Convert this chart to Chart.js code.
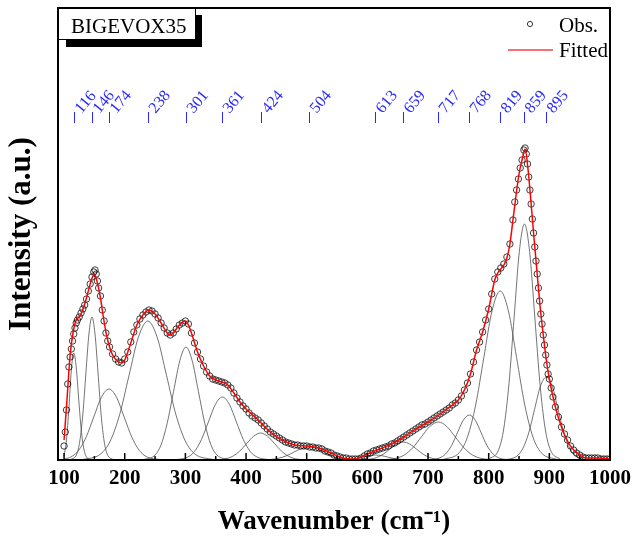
<!DOCTYPE html>
<html>
<head>
<meta charset="utf-8">
<script src="https://cdn.jsdelivr.net/npm/chart.js@4.4.1/dist/chart.umd.min.js"></script>
<style>
  body { margin: 0; background: #fff; }
  canvas { display: block; }
</style>
</head>
<body>
<canvas id="ramanChart" width="637" height="541"></canvas>
<script>
// Observed Raman spectrum (wavenumber, intensity a.u.)
const obsX = [
  100,102,104,106,108,110,112,114,116,118,
  120,122,125,128,131,134,137,140,143,146,
  149,151,153,155,157,160,163,166,169,172,
  175,180,185,190,195,200,205,210,215,220,
  225,230,235,240,245,250,255,260,265,270,
  275,280,285,290,295,300,305,310,315,320,
  325,330,335,340,345,350,355,360,365,370,
  375,380,385,390,395,400,405,410,415,420,
  425,430,435,440,445,450,455,460,465,470,
  475,480,485,490,495,500,505,510,515,520,
  525,530,535,540,545,550,555,560,565,570,
  575,580,585,590,595,600,605,610,615,620,
  625,630,635,640,645,650,655,660,665,670,
  675,680,685,690,695,700,705,710,715,720,
  725,730,735,740,745,750,755,760,765,770,
  775,780,785,790,795,800,805,810,815,820,
  825,830,835,840,843,846,849,852,855,858,
  860,862,864,866,868,870,872,874,876,878,
  880,882,884,886,888,890,892,894,896,898,
  900,903,906,910,915,920,925,930,935,940,
  945,950,955,960,965,970,975,980,985,990,
  995,1000
];
const obsY = [
  14,28,50,76,93,103,111,119,126,132,
  137,140,143,147,151,155,161,169,176,183,
  188,190,186,179,172,164,150,139,127,119,
  113,106,101,98,97,101,108,118,128,135,
  141,145,148,150,149,146,142,137,132,127,
  125,127,131,135,137,139,136,127,117,108,
  101,94,88,84,81,80,79,78,77,75,
  72,67,62,58,54,51,47,44,42,40,
  37,34,31,28,26,24,22,20,18,17,
  16,15,15,14,14,14,13,13,12,12,
  11,9,8,7,5,4,3,2,2,1,
  1,1,1,2,4,6,7,9,10,11,
  12,13,14,16,17,19,21,23,25,27,
  29,31,33,35,36,38,40,42,44,46,
  48,50,52,55,57,60,64,70,77,86,
  98,110,118,128,140,151,166,181,188,192,
  196,203,216,240,258,270,281,292,300,310,
  312,306,296,283,270,256,241,227,213,199,
  186,172,159,146,136,125,115,105,95,86,
  81,72,63,53,43,33,26,20,14,10,
  7,5,3,2,2,2,2,2,1,1,
  1,1
];

// Fitted envelope
const fitX = [100,105,110,115,120,125,130,135,140,145,150,155,160,165,170,175,180,190,195,200,
  210,220,230,240,250,260,270,275,280,290,300,305,310,320,330,340,350,360,370,380,390,400,
  420,440,460,480,500,520,540,560,580,600,620,640,660,680,700,720,740,750,760,770,780,790,800,
  810,815,820,825,830,835,840,850,855,860,865,870,875,880,885,890,895,900,910,920,930,940,950,
  960,980,1000];
const fitY = [20,62,105,128,140,143,149,158,169,180,186,177,162,142,125,113,105,98,97,100,
  117,135,145,150,146,137,127,125,127,135,139,135,127,108,94,84,80,78,75,67,58,51,
  40,28,20,15,14,12,7,2,1,6,11,16,23,31,38,46,55,60,70,86,110,128,151,
  180,187,191,195,202,216,240,286,300,311,290,256,220,186,152,125,100,81,53,33,19,10,5,
  2,2,1];

// Fitted component bands
const c116X = [100,104,108,112,116,120,124,128,132,136,142];
const c116Y = [4,20,52,90,107,93,62,32,13,4,0.5];
const c146X = [111,121,126,131,136,141,146,151,156,161,166,171,181];
const c146Y = [0.3,6,19,46,87,126,143,126,87,46,19,6,0.3];
const c174X = [100,111.5,124,136.5,149,161.5,174,186.5,199,211.5,224,236.5,261.5];
const c174Y = [0.9,3.1,9.6,23.1,43.1,62.7,71,62.7,43.1,23.1,9.6,3.1,0.2];
const c238X = [129.5,160.5,176,191.5,207,222.5,238,253.5,269,284.5,300,315.5,346.5];
const c238Y = [0.3,6.1,18.8,45.1,84.3,122.7,139,122.7,84.3,45.1,18.8,6.1,0.3];
const c301X = [229,250,260,270,280.5,291,301,311,321.5,332,342,352,373];
const c301Y = [0.2,5,15.3,36.7,68.5,99.7,113,99.7,68.5,36.7,15.3,5,0.2];
const c361X = [280.5,303.5,315,326.5,338,349.5,361,372.5,384,395.5,407,418.5,441.5];
const c361Y = [0.1,2.8,8.5,20.5,38.2,55.6,63,55.6,38.2,20.5,8.5,2.8,0.1];
const c424X = [343.5,366.5,378,389.5,401,412.5,424,435.5,447,458.5,470,481.5,504.5];
const c424Y = [0.1,1.2,3.7,8.8,16.4,23.8,27,23.8,16.4,8.8,3.7,1.2,0.1];
const c504X = [416.5,441.5,454,466.5,479,491.5,504,516.5,529,541.5,554,566.5,591.5];
const c504Y = [0,0.6,1.8,4.2,7.9,11.5,13,11.5,7.9,4.2,1.8,0.6,0];
const c613X = [543,563,573,583,593,603,613,623,633,643,653,663,683];
const c613Y = [0,0.2,0.7,1.6,3,4.4,5,4.4,3,1.6,0.7,0.2,0];
const c659X = [582,604,615,626,637,648,659,670,681,692,703,714,736];
const c659Y = [0,0.8,2.4,5.8,10.9,15.9,18,15.9,10.9,5.8,2.4,0.8,0];
const c717X = [619,647,661,675,689,703,717,731,745,759,773,787,815];
const c717Y = [0.1,1.7,5.1,12.3,23,33.5,38,33.5,23,12.3,5.1,1.7,0.1];
const c768X = [700,719,729,739,748.5,758,768,778,787.5,797,807,817,836];
const c768Y = [0.1,2,6.1,14.6,27.3,39.7,45,39.7,27.3,14.6,6.1,2,0.1];
const c819X = [724.5,751.5,765,778.5,792,805.5,819,832.5,846,859.5,873,886.5,913.5];
const c819Y = [0.4,7.4,22.9,54.9,102.5,149.1,169,149.1,102.5,54.9,22.9,7.4,0.4];
const c859X = [799.5,816.5,825,833.5,842,850.5,859,867.5,876,884.5,893,901.5,918.5];
const c859Y = [0.5,10.4,31.9,76.6,143.1,208.3,236,208.3,143.1,76.6,31.9,10.4,0.5];
const c895X = [827,846,856,866,875.5,885,895,905,914.5,924,934,944,963];
const c895Y = [0.2,3.6,11.2,27,50.3,73.2,83,73.2,50.3,27,11.2,3.6,0.2];

// Peak positions marked on top
const peakPos = [116,146,174,238,301,361,424,504,613,659,717,768,819,859,895];
const peakLabels = ['116','146','174','238','301','361','424','504','613','659','717','768','819','859','895'];

// x axis: labelled ticks and all tick marks (major + minor)
const xTickLabels = [100,200,300,400,500,600,700,800,900,1000];
const xTickValues = [100,150,200,250,300,350,400,450,500,550,600,650,700,750,800,850,900,950,1000];

const sampleName = 'BIGEVOX35';

function pts(xs, ys) {
  return xs.map((x, i) => ({x: x, y: ys[i]}));
}

const components = [
  [c116X, c116Y], [c146X, c146Y], [c174X, c174Y], [c238X, c238Y], [c301X, c301Y],
  [c361X, c361Y], [c424X, c424Y], [c504X, c504Y], [c613X, c613Y], [c659X, c659Y],
  [c717X, c717Y], [c768X, c768Y], [c819X, c819Y], [c859X, c859Y], [c895X, c895Y]
];

const serif = "'Liberation Serif', 'Times New Roman', serif";

// frame, inward ticks, peak labels, sample tag and legend
const decorations = {
  id: 'decorations',
  afterDatasetsDraw(chart) {
    const {ctx, chartArea: a, scales: {x}} = chart;
    ctx.save();

    ctx.strokeStyle = '#000';
    ctx.lineWidth = 2;
    ctx.strokeRect(a.left, a.top, a.right - a.left, a.bottom - a.top);

    ctx.lineWidth = 1.5;
    xTickValues.forEach(v => {
      const px = x.getPixelForValue(v);
      const len = v % 100 === 0 ? 7 : 4;
      ctx.beginPath();
      ctx.moveTo(px, a.bottom);
      ctx.lineTo(px, a.bottom - len);
      ctx.stroke();
    });

    // peak labels
    ctx.strokeStyle = 'rgb(40,40,255)';
    ctx.fillStyle = 'rgb(40,40,255)';
    ctx.lineWidth = 1;
    ctx.font = '16px ' + serif;
    ctx.textBaseline = 'alphabetic';
    ctx.textAlign = 'left';
    peakPos.forEach((p, i) => {
      const px = Math.round(x.getPixelForValue(p)) + 0.5;
      ctx.beginPath();
      ctx.moveTo(px, a.top + 104);
      ctx.lineTo(px, a.top + 115);
      ctx.stroke();
      ctx.save();
      ctx.translate(px + 7, a.top + 106);
      ctx.rotate(-50 * Math.PI / 180);
      ctx.fillText(peakLabels[i], 0, 0);
      ctx.restore();
    });

    // sample tag with shadow
    ctx.fillStyle = '#000';
    ctx.fillRect(a.left + 8, a.top + 7, 136, 32);
    ctx.fillStyle = '#fff';
    ctx.fillRect(a.left, a.top, 138, 32);
    ctx.strokeStyle = '#000';
    ctx.lineWidth = 1;
    ctx.strokeRect(a.left + 0.5, a.top + 0.5, 137, 31);
    ctx.fillStyle = '#000';
    ctx.font = '21px ' + serif;
    ctx.fillText(sampleName, a.left + 13, a.top + 24.5);

    // legend
    ctx.strokeStyle = 'rgba(0,0,0,0.8)';
    ctx.beginPath();
    ctx.arc(a.right - 80, 24, 2.6, 0, Math.PI * 2);
    ctx.stroke();
    ctx.fillText('Obs.', a.right - 51, 31.5);
    ctx.strokeStyle = 'rgb(240,70,70)';
    ctx.lineWidth = 1.5;
    ctx.beginPath();
    ctx.moveTo(a.right - 102, 50);
    ctx.lineTo(a.right - 57, 50);
    ctx.stroke();
    ctx.fillText('Fitted', a.right - 51, 56.5);

    ctx.restore();
  }
};

const datasets = [
  {
    label: 'Fitted',
    data: pts(fitX, fitY),
    showLine: true,
    borderColor: 'rgb(255,0,0)',
    borderWidth: 1.5,
    pointRadius: 0,
    cubicInterpolationMode: 'monotone'
  },
  {
    label: 'Obs.',
    data: pts(obsX, obsY),
    showLine: false,
    pointStyle: 'circle',
    pointRadius: 3.2,
    borderWidth: 1,
    borderColor: 'rgba(0,0,0,0.75)',
    backgroundColor: 'rgba(0,0,0,0)'
  }
];
components.forEach(c => {
  datasets.push({
    label: 'component',
    data: pts(c[0], c[1]),
    showLine: true,
    borderColor: 'rgba(70,70,70,0.75)',
    borderWidth: 1,
    pointRadius: 0,
    cubicInterpolationMode: 'monotone'
  });
});

new Chart(document.getElementById('ramanChart'), {
  type: 'scatter',
  data: {datasets: datasets},
  options: {
    responsive: false,
    animation: false,
    devicePixelRatio: 1,
    layout: {padding: {left: 0, top: 8, right: 23, bottom: 0}},
    plugins: {
      legend: {display: false},
      tooltip: {enabled: false}
    },
    scales: {
      x: {
        type: 'linear',
        min: 90,
        max: 1000,
        afterFit: s => { s.height = 81; },
        afterBuildTicks: s => { s.ticks = xTickLabels.map(v => ({value: v})); },
        grid: {display: false, drawTicks: false},
        border: {display: false},
        ticks: {
          autoSkip: false,
          maxRotation: 0,
          padding: 6,
          color: '#000',
          callback: v => String(v),
          font: {family: serif, size: 21, weight: 'bold'}
        },
        title: {
          display: true,
          text: 'Wavenumber (cm\u207B\u00B9)',
          color: '#000',
          padding: {top: 0, bottom: 3},
          font: {family: serif, size: 27, weight: 'bold'}
        }
      },
      y: {
        type: 'linear',
        min: 0,
        max: 452,
        afterFit: s => { s.width = 58; },
        grid: {display: false, drawTicks: false},
        border: {display: false},
        ticks: {display: false},
        title: {
          display: true,
          text: 'Intensity (a.u.)',
          color: '#000',
          padding: {top: 3, bottom: 0},
          font: {family: serif, size: 31, weight: 'bold'}
        }
      }
    }
  },
  plugins: [decorations]
});
</script>
</body>
</html>
